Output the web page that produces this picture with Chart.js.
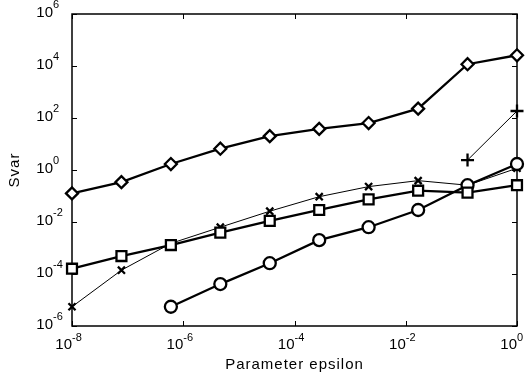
<!DOCTYPE html>
<html lang="en">
<head>
  <meta charset="UTF-8" />
  <title>Svar vs epsilon</title>
  <script src="https://cdn.jsdelivr.net/npm/chart.js"></script>
  <style>
    body {
      margin: 0;
      background: #fff;
    }
    #wrap {
      width: 528px;
      height: 378px;
    }
  </style>
</head>
<body>
  <div id="wrap"><canvas id="chart"></canvas></div>

  <script>
    // parameter values on the x axis
    const epsilon = [1e-8, 7.74e-8, 5.99e-7, 4.64e-6, 3.59e-5, 2.78e-4, 2.15e-3, 1.67e-2, 0.129, 1];

    // series (null = no point)
    const diamondVals = [0.126, 0.34, 1.7, 6.6, 20, 38, 64, 229, 11700, 25900];
    const squareVals = [1.6e-4, 4.9e-4, 1.3e-3, 3.9e-3, 0.011, 0.029, 0.074, 0.16, 0.135, 0.26];
    const crossVals = [5.5e-6, 1.4e-4, 1.5e-3, 6.3e-3, 0.026, 0.094, 0.23, 0.39, 0.26, 1.17];
    const circleVals = [null, null, 5.5e-6, 4.1e-5, 2.6e-4, 2.0e-3, 6.3e-3, 0.029, 0.26, 1.7];
    const plusVals = [null, null, null, null, null, null, null, null, 2.4, 186];

    // tick exponents
    const xExps = [-8, -6, -4, -2, 0];
    const yExps = [-6, -4, -2, 0, 2, 4, 6];

    function pts(vals) {
      return epsilon.map((x, i) => ({ x: x, y: vals[i] })).filter(p => p.y !== null);
    }

    function series(vals, style, radius, lineW) {
      return {
        data: pts(vals),
        borderColor: '#000',
        backgroundColor: '#fff',
        borderWidth: lineW,
        pointStyle: style,
        pointRadius: radius,
        pointBorderWidth: 2.3,
        pointBackgroundColor: style.startsWith('cross') ? '#000' : '#fff',
        showLine: true,
        tension: 0,
        clip: false
      };
    }

    // box, inward ticks and 10^n labels
    const axesPlugin = {
      id: 'matlabAxes',
      beforeDraw(chart) {
        chart.ctx.letterSpacing = '1px';
      },
      beforeDatasetsDraw(chart) {
        const ctx = chart.ctx;
        const a = chart.chartArea;
        const xs = chart.scales.x, ys = chart.scales.y;
        ctx.save();
        ctx.letterSpacing = '0px';
        ctx.fillStyle = '#000';

        // y labels
        yExps.forEach(e => {
          const y = ys.getPixelForValue(Math.pow(10, e));
          ctx.font = '15px "Liberation Sans", Arial, sans-serif';
          ctx.textAlign = 'right';
          ctx.textBaseline = 'middle';
          ctx.fillText('10', 53, y - 1);
          ctx.font = '11px "Liberation Sans", Arial, sans-serif';
          ctx.textAlign = 'left';
          ctx.textBaseline = 'alphabetic';
          ctx.fillText(String(e), 53, y - 6);
        });

        // x labels
        xExps.forEach(e => {
          const x = xs.getPixelForValue(Math.pow(10, e));
          ctx.font = '15px "Liberation Sans", Arial, sans-serif';
          ctx.textAlign = 'right';
          ctx.textBaseline = 'middle';
          ctx.fillText('10', x, 345);
          ctx.font = '11px "Liberation Sans", Arial, sans-serif';
          ctx.textAlign = 'left';
          ctx.textBaseline = 'alphabetic';
          ctx.fillText(String(e), x, 341);
        });

        // frame
        ctx.strokeStyle = '#000';
        ctx.lineWidth = 1.5;
        ctx.strokeRect(a.left, a.top, a.right - a.left, a.bottom - a.top);

        // inward ticks on all sides
        ctx.lineWidth = 1;
        ctx.beginPath();
        const tl = 5;
        xExps.forEach(e => {
          const x = Math.round(xs.getPixelForValue(Math.pow(10, e))) + 0.5;
          ctx.moveTo(x, a.bottom); ctx.lineTo(x, a.bottom - tl);
          ctx.moveTo(x, a.top); ctx.lineTo(x, a.top + tl);
        });
        yExps.forEach(e => {
          const y = Math.round(ys.getPixelForValue(Math.pow(10, e))) + 0.5;
          ctx.moveTo(a.left, y); ctx.lineTo(a.left + tl, y);
          ctx.moveTo(a.right, y); ctx.lineTo(a.right - tl, y);
        });
        ctx.stroke();
        ctx.restore();
      },
      afterDraw(chart) {
        chart.ctx.letterSpacing = '0px';
      }
    };

    new Chart(document.getElementById('chart'), {
      type: 'scatter',
      data: {
        datasets: [
          series(diamondVals, 'rectRot', 6, 2.3),
          series(squareVals, 'rect', 7, 2.3),
          series(circleVals, 'circle', 6, 2.3),
          series(crossVals, 'crossRot', 5, 1),
          series(plusVals, 'cross', 6.5, 1)
        ]
      },
      options: {
        responsive: true,
        maintainAspectRatio: false,
        animation: false,
        layout: { padding: { top: 14, right: 11, left: 0, bottom: 0 } },
        plugins: {
          legend: { display: false },
          tooltip: { enabled: false }
        },
        scales: {
          x: {
            type: 'logarithmic',
            min: 1e-8,
            max: 1,
            grid: { display: false },
            border: { display: false },
            ticks: { display: false },
            afterFit: s => { s.height = 52; },
            title: {
              display: true,
              text: 'Parameter epsilon',
              color: '#000',
              font: { family: '"Liberation Sans", Arial, sans-serif', size: 15 },
              padding: { top: 0, bottom: 4 }
            }
          },
          y: {
            type: 'logarithmic',
            min: 1e-6,
            max: 1e6,
            grid: { display: false },
            border: { display: false },
            ticks: { display: false },
            afterFit: s => { s.width = 72; },
            title: {
              display: true,
              text: 'Svar',
              color: '#000',
              font: { family: '"Liberation Sans", Arial, sans-serif', size: 15 },
              padding: { top: 6, bottom: 0 }
            }
          }
        }
      },
      plugins: [axesPlugin]
    });
  </script>
</body>
</html>
